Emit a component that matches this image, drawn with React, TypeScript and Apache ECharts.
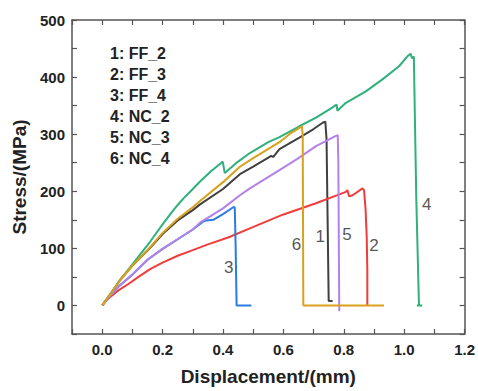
import React, { useEffect, useRef } from "react";
import * as echarts from "echarts";

// Curve data: [displacement (mm), stress (MPa)]
const ff2: [number, number][] = [
  [0, 0], [0.03, 22], [0.06, 45], [0.1, 70], [0.159, 101], [0.2, 125], [0.25, 149], [0.3, 167],
  [0.324, 177], [0.4, 204], [0.456, 230], [0.5, 243], [0.56, 262], [0.566, 260], [0.587, 274],
  [0.653, 294], [0.7, 309], [0.73, 320], [0.739, 322], [0.743, 290], [0.75, 8], [0.763, 8],
];
const ff3: [number, number][] = [
  [0, 0], [0.02, 12], [0.05, 25], [0.088, 38], [0.12, 50], [0.16, 64], [0.2, 75], [0.25, 87],
  [0.3, 97], [0.35, 107], [0.417, 119], [0.489, 135], [0.598, 159], [0.708, 179], [0.807, 199],
  [0.812, 202], [0.818, 191], [0.829, 193], [0.862, 205], [0.867, 202], [0.872, 170], [0.876, 120],
  [0.878, 60], [0.878, 0],
];
const ff4: [number, number][] = [
  [0, 0], [0.03, 19], [0.06, 36], [0.1, 54], [0.15, 80], [0.2, 99], [0.25, 116], [0.3, 133],
  [0.335, 147], [0.345, 149], [0.368, 150], [0.4, 160], [0.434, 172], [0.439, 172], [0.442, 100],
  [0.445, 0], [0.494, 0],
];
const nc2: [number, number][] = [
  [0, 0], [0.03, 22], [0.06, 45], [0.1, 72], [0.159, 112], [0.2, 142], [0.23, 163], [0.25, 176],
  [0.27, 188], [0.3, 204], [0.324, 217], [0.36, 235], [0.395, 250], [0.399, 252], [0.406, 232],
  [0.45, 252], [0.489, 267], [0.55, 286], [0.587, 295], [0.65, 313], [0.708, 329], [0.763, 347],
  [0.776, 352], [0.779, 341], [0.807, 355], [0.873, 375], [0.928, 396], [0.983, 419], [1.01, 436],
  [1.021, 441], [1.026, 433], [1.032, 436], [1.04, 190], [1.049, 0], [1.042, 0], [1.06, 0],
];
const nc3: [number, number][] = [
  [0, 0], [0.03, 19], [0.06, 36], [0.1, 54], [0.15, 80], [0.2, 99], [0.25, 116], [0.3, 133],
  [0.324, 145], [0.4, 170], [0.456, 193], [0.489, 205], [0.587, 237], [0.65, 258], [0.708, 279],
  [0.774, 297], [0.78, 298], [0.782, 250], [0.785, -10],
];
const nc4: [number, number][] = [
  [0, 0], [0.03, 22], [0.06, 45], [0.1, 70], [0.159, 102], [0.2, 127], [0.25, 152], [0.3, 172],
  [0.324, 183], [0.4, 216], [0.456, 243], [0.5, 258], [0.587, 286], [0.62, 300], [0.653, 311],
  [0.661, 314], [0.664, 300], [0.666, 0], [0.933, 0],
];

const seriesNames = ["1: FF_2", "2: FF_3", "3: FF_4", "4: NC_2", "5: NC_3", "6: NC_4"];
const seriesData = [ff2, ff3, ff4, nc2, nc3, nc4];
const seriesColors = ["#404040", "#ef3d3b", "#2b7be0", "#30b07a", "#b481e8", "#d9a11b"];
// Curve number annotations [x, y, text]
const curveLabels: [number, number, string][] = [
  [0.419, 66, "3"], [0.643, 106, "6"], [0.722, 120, "1"], [0.811, 124, "5"], [0.9, 105, "2"], [1.075, 176, "4"],
];

const FONT = "'Liberation Sans', Arial, sans-serif";

export default function App() {
  const ref = useRef<HTMLDivElement>(null);
  useEffect(() => {
    if (!ref.current) return;
    const chart = echarts.init(ref.current, null, { renderer: "svg" });
    const axisLine = { show: true, onZero: false, lineStyle: { color: "#555", width: 1.5 } };
    const axisTick = { show: true, inside: true, length: 5, lineStyle: { color: "#555", width: 1.2 } };
    const labelStyle = { fontSize: 15, fontWeight: "bold" as const, color: "#222", fontFamily: FONT };
    chart.setOption({
      animation: false,
      backgroundColor: "#fff",
      grid: { left: 72, right: 12, top: 20, bottom: 54, containLabel: false },
      xAxis: [
        {
          type: "value", min: -0.1, max: 1.2, interval: 0.1, position: "bottom",
          axisLine, axisTick, splitLine: { show: false },
          axisLabel: {
            ...labelStyle, margin: 8,
            formatter: (v: number) => {
              const k = Math.round(v * 10);
              return k >= 0 && k % 2 === 0 ? (k / 10).toFixed(1) : "";
            },
          },
          name: "Displacement/(mm)", nameLocation: "middle", nameGap: 33,
          nameTextStyle: { fontSize: 19, fontWeight: "bold", color: "#222", fontFamily: FONT },
        },
        {
          type: "value", min: -0.1, max: 1.2, interval: 0.1, position: "top",
          axisLine, axisTick, splitLine: { show: false }, axisLabel: { show: false },
        },
      ],
      yAxis: [
        {
          type: "value", min: -50, max: 500, interval: 50, position: "left",
          axisLine, axisTick, splitLine: { show: false },
          axisLabel: {
            ...labelStyle, margin: 7,
            formatter: (v: number) => (Math.round(v) >= 0 && Math.round(v) % 100 === 0 ? String(Math.round(v)) : ""),
          },
          name: "Stress/(MPa)", nameLocation: "middle", nameGap: 35, nameRotate: 90,
          nameTextStyle: { fontSize: 19, fontWeight: "bold", color: "#222", fontFamily: FONT },
        },
        {
          type: "value", min: -50, max: 500, interval: 50, position: "right",
          axisLine, axisTick, splitLine: { show: false }, axisLabel: { show: false },
        },
      ],
      series: [
        ...seriesData.map((d, i) => ({
          type: "line", name: seriesNames[i], data: d, xAxisIndex: 0, yAxisIndex: 0,
          showSymbol: false, symbol: "none", smooth: false,
          lineStyle: { color: seriesColors[i], width: 2 }, itemStyle: { color: seriesColors[i] },
          z: 2,
        })),
        {
          type: "scatter", xAxisIndex: 0, yAxisIndex: 0, symbolSize: 0,
          data: curveLabels.map((c) => ({ value: [c[0], c[1]], name: c[2] })),
          label: {
            show: true, position: "inside", formatter: (p: any) => p.name,
            fontSize: 17, color: "#2a2a2a", fontFamily: FONT,
          },
          silent: true, z: 5,
        },
      ],
      graphic: seriesNames.map((n, i) => ({
        type: "text", left: 110, top: 45 + i * 21,
        style: { text: n, fontSize: 16, fontWeight: "bold", fill: "#222", fontFamily: FONT },
      })),
    });
    return () => chart.dispose();
  }, []);
  return <div ref={ref} style={{ position: "absolute", left: 0, top: 0, width: 478, height: 391 }} />;
}
